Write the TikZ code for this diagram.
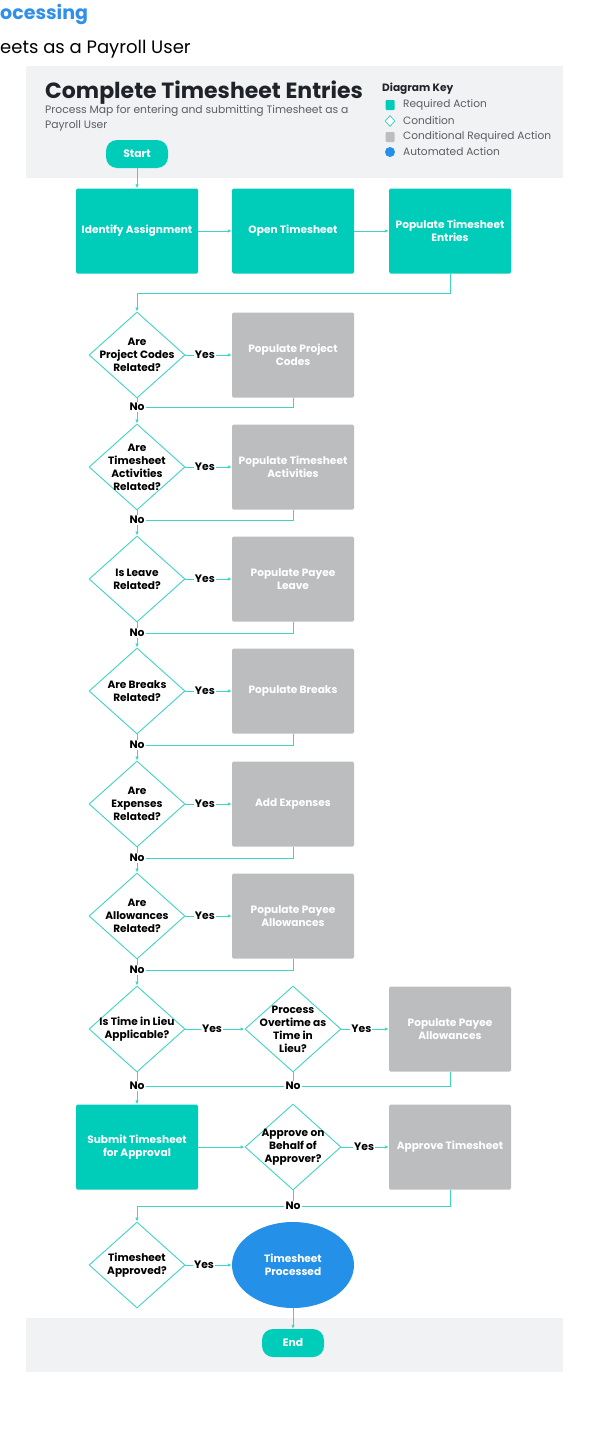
\documentclass[tikz,border=0pt]{standalone}
\usepackage{fontspec}
\setmainfont{Poppins}
\usetikzlibrary{shapes.geometric,arrows.meta}
\definecolor{teal}{HTML}{00CCBA}
\definecolor{conn}{HTML}{40D4C4}
\definecolor{gbox}{HTML}{BCBDBF}
\definecolor{autob}{HTML}{2490E8}
\definecolor{band}{HTML}{F1F2F4}
\definecolor{ttl}{HTML}{1F2229}
\definecolor{sub}{HTML}{5A5D63}
\definecolor{hblue}{HTML}{2F8FEA}
\tikzset{
  reqbox/.style={rectangle,rounded corners=1.5pt,fill=teal,minimum width=122pt,minimum height=85pt,text=white,font=\fontsize{10.6}{13}\selectfont\bfseries,align=center,inner sep=2pt},
  condbox/.style={reqbox,fill=gbox},
  pill/.style={rectangle,rounded corners=11pt,fill=teal,minimum width=62pt,minimum height=28pt,text=white,font=\fontsize{10.8}{12}\selectfont\bfseries},
  dia/.style={diamond,draw=conn,line width=0.9pt,fill=white,minimum width=96pt,minimum height=86pt,inner sep=0pt},
  dtext/.style={align=center,font=\fontsize{10.6}{13}\selectfont\bfseries,text=black,inner sep=0pt},
  lbl/.style={fill=white,inner sep=1pt,font=\fontsize{10.8}{12}\selectfont\bfseries,text=black},
  ln/.style={draw=conn,line width=0.9pt},
  arr/.style={ln,-{Latex[length=4pt,width=3.5pt]}},
  keytxt/.style={anchor=west,font=\fontsize{10.6}{12}\selectfont,text=sub,inner sep=0pt}
}
\begin{document}
\begin{tikzpicture}[x=1pt,y=-1pt]
\useasboundingbox (0,0) rectangle (591,1437);
% page headings
\node[anchor=base west,inner sep=0pt,text=hblue,font=\fontsize{19}{22}\selectfont\bfseries] (h1) at (0,20) {ocessing};
\node[anchor=base west,inner sep=0pt,text=black,font=\fontsize{18}{20}\selectfont] (h2) at (0,53) {eets as a Payroll User};
% bands
\fill[band] (26,66) rectangle (563,178);
\fill[band] (26,1318) rectangle (563,1372);
% title
\node[anchor=base west,inner sep=0pt,text=ttl,font=\fontsize{22}{24}\selectfont\bfseries] (title) at (45,98) {Complete Timesheet Entries};
\node[anchor=base west,inner sep=0pt,text=sub,font=\fontsize{10.75}{12}\selectfont] (sub1) at (45,113) {Process Map for entering and submitting Timesheet as a};
\node[anchor=base west,inner sep=0pt,text=sub,font=\fontsize{10.75}{12}\selectfont] (sub2) at (45,128) {Payroll User};
% key
\node[anchor=base west,inner sep=0pt,text=ttl,font=\fontsize{10.6}{12}\selectfont\bfseries] (keyt) at (382,92) {Diagram Key};
\node[rectangle,rounded corners=1pt,fill=teal,minimum width=9pt,minimum height=10pt,inner sep=0pt] (k1) at (390,105) {};
\node[diamond,draw=conn,line width=0.8pt,fill=white,minimum width=10pt,minimum height=11pt,inner sep=0pt] (k2) at (390,121) {};
\node[rectangle,rounded corners=1pt,fill=gbox,minimum width=9pt,minimum height=10pt,inner sep=0pt] (k3) at (390,137) {};
\node[circle,fill=autob,minimum size=10pt,inner sep=0pt] (k4) at (390,152) {};
\node[keytxt] (kt1) at (403,105) {Required Action};
\node[keytxt] (kt2) at (403,121) {Condition};
\node[keytxt] (kt3) at (403,137) {Conditional Required Action};
\node[keytxt] (kt4) at (403,152) {Automated Action};
% nodes
\node[pill] (start) at (137,154) {Start};
\node[reqbox] (b1) at (137,231) {Identify Assignment};
\node[reqbox] (b2) at (293,231) {Open Timesheet};
\node[reqbox] (b3) at (450,231) {Populate Timesheet\\Entries};
\coordinate (j0) at (137,293);
\node[dia,label={[dtext]center:Are\\Project Codes\\Related?}] (d1) at (137,355) {};
\node[condbox] (g1) at (293,355) {Populate Project\\Codes};
\node[dia,label={[dtext]center:Are\\Timesheet\\Activities\\Related?}] (d2) at (137,467) {};
\node[condbox] (g2) at (293,467) {Populate Timesheet\\Activities};
\node[dia,label={[dtext]center:Is Leave\\Related?}] (d3) at (137,579) {};
\node[condbox] (g3) at (293,579) {Populate Payee\\Leave};
\node[dia,label={[dtext]center:Are Breaks\\Related?}] (d4) at (137,691) {};
\node[condbox] (g4) at (293,691) {Populate Breaks};
\node[dia,label={[dtext]center:Are\\Expenses\\Related?}] (d5) at (137,804) {};
\node[condbox] (g5) at (293,804) {Add Expenses};
\node[dia,label={[dtext]center:Are\\Allowances\\Related?}] (d6) at (137,916) {};
\node[condbox] (g6) at (293,916) {Populate Payee\\Allowances};
\node[dia,label={[dtext]center:Is Time in Lieu\\Applicable?}] (d7) at (137,1029) {};
\node[dia,label={[dtext]center:Process\\Overtime as\\Time in\\Lieu?}] (d7b) at (293,1029) {};
\node[condbox] (g7) at (450,1029) {Populate Payee\\Allowances};
\node[reqbox] (sub) at (137,1147) {Submit Timesheet\\for Approval};
\node[dia,label={[dtext]center:Approve on\\Behalf of\\Approver?}] (d8) at (293,1147) {};
\node[condbox] (g8) at (450,1147) {Approve Timesheet};
\node[dia,label={[dtext]center:Timesheet\\Approved?}] (d9) at (137,1265) {};
\node[ellipse,fill=autob,minimum width=122pt,minimum height=86pt,text=white,font=\fontsize{10.6}{13}\selectfont\bfseries,align=center] (auto) at (293,1265) {Timesheet\\Processed};
\node[pill] (end) at (293,1343) {End};
% No labels
\node[lbl] (n1) at (137,407) {No};
\node[lbl] (n2) at (137,520) {No};
\node[lbl] (n3) at (137,633) {No};
\node[lbl] (n4) at (137,745) {No};
\node[lbl] (n5) at (137,858) {No};
\node[lbl] (n6) at (137,970) {No};
\node[lbl] (n7a) at (137,1086) {No};
\node[lbl] (n7b) at (293,1086) {No};
\node[lbl] (n8) at (293,1206) {No};
\coordinate (j8) at (137,1206);
% connectors
\draw[arr] (start) -- (b1);
\draw[arr] (b1) -- (b2);
\draw[arr] (b2) -- (b3);
\draw[ln] (b3.south) |- (j0);
\draw[arr] (j0) -- (d1.north);
\foreach \d/\g/\n/\nx in {d1/g1/n1/d2,d2/g2/n2/d3,d3/g3/n3/d4,d4/g4/n4/d5,d5/g5/n5/d6,d6/g6/n6/d7}{
  \draw[arr] (\d.east) -- node[lbl,pos=0.42]{Yes} (\g.west);
  \draw[ln] (\d.south) -- (\n.north);
  \draw[arr] (\n.south) -- (\nx.north);
  \draw[ln] (\g.south) |- (\n.east);
}
\draw[arr] (d7.east) -- node[lbl,pos=0.45]{Yes} (d7b.west);
\draw[arr] (d7b.east) -- node[lbl,pos=0.42]{Yes} (g7.west);
\draw[ln] (d7.south) -- (n7a.north);
\draw[ln] (d7b.south) -- (n7b.north);
\draw[ln] (g7.south) |- (n7b.east);
\draw[ln] (n7b.west) -- (n7a.east);
\draw[arr] (n7a.south) -- (sub.north);
\draw[arr] (sub.east) -- (d8.west);
\draw[arr] (d8.east) -- node[lbl,pos=0.48]{Yes} (g8.west);
\draw[ln] (d8.south) -- (n8.north);
\draw[ln] (g8.south) |- (n8.east);
\draw[ln] (n8.west) -- (j8);
\draw[arr] (j8) -- (d9.north);
\draw[arr] (d9.east) -- node[lbl,pos=0.4]{Yes} (auto.west);
\draw[arr] (auto.south) -- (end.north);
\end{tikzpicture}
\end{document}
